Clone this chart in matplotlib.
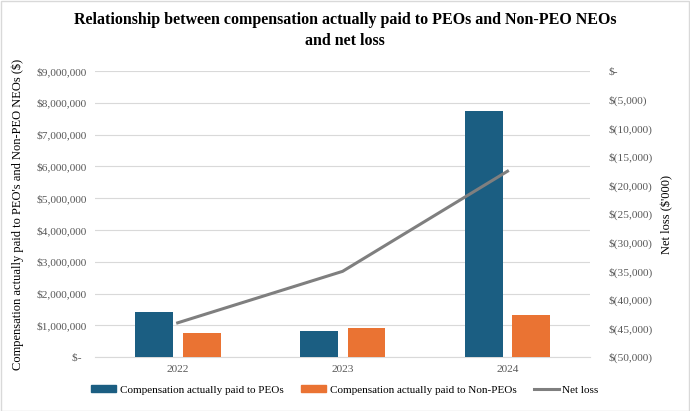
import numpy as np
import matplotlib.pyplot as plt
from matplotlib.ticker import FuncFormatter
from matplotlib.patches import Rectangle
from matplotlib.lines import Line2D

plt.rcParams['font.family'] = ['Liberation Serif', 'DejaVu Serif']

years = ['2022', '2023', '2024']
# compensation actually paid ($)
peo_cap = [1415000, 820000, 7740000]
non_peo_cap = [760000, 910000, 1330000]
# net loss ($'000)
net_loss = [-44000, -35000, -17500]

blue = '#1b5e82'
orange = '#ea7333'
gray = '#7f7f7f'
tick_color = '#595959'

fig = plt.figure(figsize=(6.9, 4.11), dpi=100)
ax = fig.add_axes([0.138, 0.131, 0.717, 0.696])
x = np.arange(len(years))
w = 0.23
ax.bar(x - 0.145, peo_cap, w, color=blue, zorder=3)
ax.bar(x + 0.145, non_peo_cap, w, color=orange, zorder=3)
ax.set_xlim(-0.5, 2.5)
ax.set_ylim(0, 9000000)
ax.set_yticks(np.arange(0, 9000001, 1000000))
ax.yaxis.set_major_formatter(FuncFormatter(
    lambda v, p: '$-  ' if v == 0 else '${:,.0f}'.format(v)))
ax.set_xticks(x)
ax.set_xticklabels(years)
ax.grid(axis='y', color='#d9d9d9', linewidth=0.8, zorder=0)
for s in ax.spines.values():
    s.set_visible(False)
ax.spines['bottom'].set_visible(True)
ax.spines['bottom'].set_color('#d9d9d9')
ax.tick_params(axis='both', length=0, labelsize=8.2, colors=tick_color, pad=6)
ax.set_ylabel("Compensation actually paid to PEO's and Non-PEO NEOs ($)",
              fontsize=9, labelpad=9)

ax2 = ax.twinx()
ax2.plot(x, net_loss, color=gray, linewidth=2.2, zorder=4)
ax2.set_ylim(-50000, 0)
ax2.set_yticks(np.arange(-50000, 1, 5000))
ax2.yaxis.set_major_formatter(FuncFormatter(
    lambda v, p: '$-' if v == 0 else '$({:,.0f})'.format(-v)))
for s in ax2.spines.values():
    s.set_visible(False)
ax2.tick_params(axis='y', length=0, labelsize=8.2, colors=tick_color, pad=13)
ax2.set_ylabel("Net loss ($'000)", fontsize=9, labelpad=6)

fig.suptitle('Relationship between compensation actually paid to PEOs and Non-PEO NEOs\nand net loss',
             fontsize=11.5, fontweight='bold', y=0.972, linespacing=1.45)

handles = [Rectangle((0, 0), 1, 1, color=blue),
           Rectangle((0, 0), 1, 1, color=orange),
           Line2D([0], [0], color=gray, linewidth=2.2)]
fig.legend(handles, ['Compensation actually paid to PEOs',
                     'Compensation actually paid to Non-PEOs', 'Net loss'],
           loc='center', bbox_to_anchor=(0.5, 0.051), ncol=3, frameon=False,
           fontsize=8, handlelength=2.25, handleheight=0.55, columnspacing=1.6,
           handletextpad=0.3)

fig.patches.append(Rectangle((0.001, 0.001), 0.997, 0.997, transform=fig.transFigure,
                             fill=False, edgecolor='#d9d9d9', linewidth=1))

fig.savefig('out.png', dpi=100)
